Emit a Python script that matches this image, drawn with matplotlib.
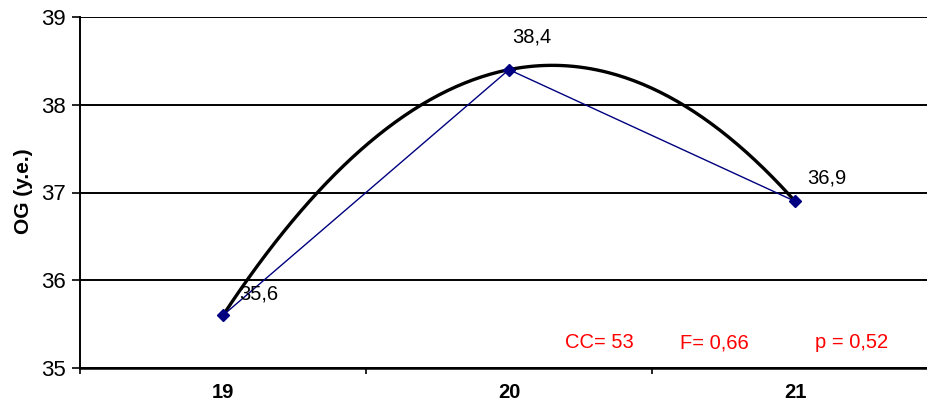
import matplotlib.pyplot as plt
import numpy as np

plt.rcParams['font.family'] = ['Liberation Sans', 'DejaVu Sans']

# data
categories = ['19', '20', '21']
values = [35.6, 38.4, 36.9]
value_labels = ['35,6', '38,4', '36,9']
stats_text = ['CC= 53', 'F= 0,66', 'p = 0,52']

x = np.arange(len(categories))

fig = plt.figure(figsize=(9.27, 4.01), dpi=100)
ax = fig.add_axes([80 / 927, 1 - 368 / 401, 858 / 927, 351 / 401])

# polynomial trend (2nd order) through the points
coef = np.polyfit(x, values, 2)
xs = np.linspace(x[0], x[-1], 200)
ax.plot(xs, np.polyval(coef, xs), color='black', lw=2.4, zorder=3)

ax.plot(x, values, color='#000080', lw=1, marker='D', ms=6,
        mec='#000080', mfc='#000080', zorder=4)

# label offsets in pixels
offsets = [(16, 21), (23, 33), (12, 23)]
for xi, v, lab, off in zip(x, values, value_labels, offsets):
    ax.annotate(lab, (xi, v), xytext=off, textcoords='offset pixels',
                ha='left' if off[0] < 20 else 'center', va='center',
                fontsize=14.5, zorder=5)

ax.set_xlim(-0.5, 2.5)
ax.set_ylim(35, 39)
ax.set_yticks([35, 36, 37, 38, 39])
ax.set_yticklabels(['35', '36', '37', '38', '39'], fontsize=16)
ax.yaxis.grid(True, color='black', lw=1.4)
ax.set_axisbelow(True)

ax.set_xticks(x)
ax.set_xticklabels(categories, fontsize=14.5, fontweight='bold')
ax.set_xticks([-0.5, 0.5, 1.5], minor=True)
ax.tick_params(axis='x', which='major', length=0, pad=11)
ax.tick_params(axis='x', which='minor', length=4, width=1.2)
ax.tick_params(axis='y', length=6, width=1.2, pad=4)

for s in ['top', 'right']:
    ax.spines[s].set_visible(False)
ax.spines['left'].set_linewidth(1.4)
ax.spines['bottom'].set_linewidth(1.8)

ax.set_ylabel('OG (y.e.)', fontsize=15, fontweight='bold')
ax.yaxis.set_label_coords(-47 / 858, (368 - 191) / 351)

stat_x = [599, 714, 852]
for sx, t in zip(stat_x, stats_text):
    fig.text(sx / 927, 1 - 343 / 401, t, color='red', fontsize=14.5,
             ha='center', va='center')

fig.savefig('out.png', dpi=100)
